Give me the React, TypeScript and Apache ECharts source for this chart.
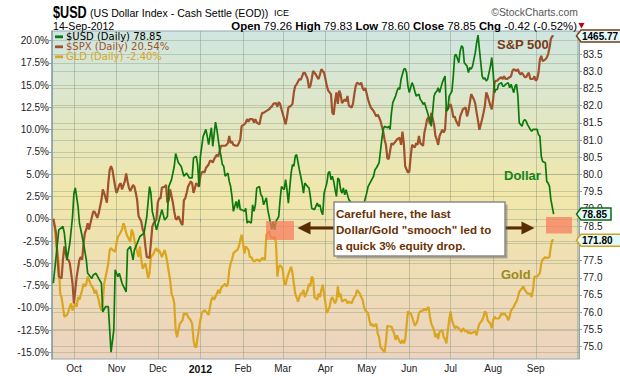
import React, { useEffect, useRef } from "react";
import * as echarts from "echarts";

// $USD daily close (right axis, price)
const usdDaily: [string, number][] = [
  ["2011-09-16",76.84],["2011-09-20",78.39],["2011-09-23",78.49],["2011-09-24",78.30],["2011-09-26",77.52],["2011-09-28",78.00],["2011-09-30",78.78],
  ["2011-10-01",79.46],["2011-10-02",79.61],["2011-10-04",79.07],["2011-10-05",78.59],["2011-10-07",78.20],["2011-10-08",78.00],["2011-10-10",77.52],
  ["2011-10-11",77.13],["2011-10-14",76.98],["2011-10-15",77.08],["2011-10-17",77.13],["2011-10-19",76.98],["2011-10-21",76.84],["2011-10-22",76.01],
  ["2011-10-24",76.16],["2011-10-26",76.16],["2011-10-28",74.84],["2011-10-30",75.48],["2011-10-31",77.23],["2011-11-02",77.03],["2011-11-03",77.13],
  ["2011-11-05",76.84],["2011-11-08",76.59],["2011-11-09",77.81],["2011-11-11",77.91],["2011-11-13",77.52],["2011-11-14",77.81],["2011-11-16",78.00],
  ["2011-11-18",78.20],["2011-11-21",78.30],["2011-11-23",78.78],["2011-11-25",79.65],["2011-11-26",79.46],["2011-11-27",78.93],["2011-11-29",78.59],
  ["2011-11-30",78.39],["2011-12-02",78.68],["2011-12-04",78.98],["2011-12-06",78.68],["2011-12-08",78.78],["2011-12-09",79.65],["2011-12-11",79.85],
  ["2011-12-13",80.24],["2011-12-14",80.61],["2011-12-16",80.34],["2011-12-18",80.24],["2011-12-20",79.95],["2011-12-22",80.04],["2011-12-24",79.90],
  ["2011-12-26",79.90],["2011-12-27",80.48],["2011-12-29",80.53],["2011-12-30",80.29],["2011-12-31",79.65],["2012-01-01",80.53],["2012-01-03",81.11],
  ["2012-01-05",81.31],["2012-01-06",81.11],["2012-01-07",80.87],["2012-01-09",81.36],["2012-01-10",80.82],["2012-01-12",81.52],["2012-01-13",81.31],
  ["2012-01-15",80.72],["2012-01-16",80.53],["2012-01-17",80.29],["2012-01-18",80.24],["2012-01-19",79.95],["2012-01-21",80.04],["2012-01-22",79.80],
  ["2012-01-23",79.65],["2012-01-24",79.36],["2012-01-25",78.93],["2012-01-27",79.22],["2012-01-28",79.02],["2012-01-29",79.27],["2012-01-30",78.98],
  ["2012-01-31",78.98],["2012-02-02",78.93],["2012-02-03",79.02],["2012-02-04",78.59],["2012-02-05",78.64],["2012-02-07",78.59],["2012-02-08",79.12],
  ["2012-02-09",78.93],["2012-02-10",79.12],["2012-02-11",79.61],["2012-02-13",79.65],["2012-02-14",79.41],["2012-02-15",79.36],["2012-02-16",79.12],
  ["2012-02-18",79.32],["2012-02-19",78.98],["2012-02-21",78.59],["2012-02-22",78.41],["2012-02-23",78.64],["2012-02-24",78.39],["2012-02-25",78.64],
  ["2012-02-27",78.78],["2012-02-28",79.27],["2012-02-29",79.65],["2012-03-02",79.56],["2012-03-03",79.85],["2012-03-04",79.56],["2012-03-05",79.17],
  ["2012-03-07",80.04],["2012-03-08",80.29],["2012-03-09",80.24],["2012-03-10",80.53],["2012-03-11",80.58],["2012-03-13",80.14],["2012-03-14",79.95],
  ["2012-03-15",79.75],["2012-03-16",79.46],["2012-03-17",79.75],["2012-03-19",79.65],["2012-03-20",79.61],["2012-03-21",79.36],["2012-03-22",79.02],
  ["2012-03-24",78.98],["2012-03-26",79.17],["2012-03-27",79.07],["2012-03-28",79.12],["2012-03-29",78.93],["2012-03-30",78.83],["2012-03-31",79.46],
  ["2012-04-02",79.75],["2012-04-03",80.04],["2012-04-04",80.09],["2012-04-05",79.85],["2012-04-06",79.95],["2012-04-07",79.80],["2012-04-08",79.56],
  ["2012-04-09",79.36],["2012-04-10",79.90],["2012-04-11",79.85],["2012-04-12",79.56],["2012-04-13",79.46],["2012-04-14",79.61],["2012-04-15",79.41],
  ["2012-04-16",79.56],["2012-04-18",79.27],["2012-04-19",79.22],["2012-04-20",79.17],["2012-04-24",79.07],["2012-04-28",79.02],["2012-05-01",79.46],
  ["2012-05-02",79.65],["2012-05-04",79.80],["2012-05-06",79.95],["2012-05-07",80.14],["2012-05-08",80.19],["2012-05-10",80.34],["2012-05-11",80.68],
  ["2012-05-12",81.02],["2012-05-13",81.31],["2012-05-14",81.40],["2012-05-16",81.36],["2012-05-17",81.40],["2012-05-18",81.31],["2012-05-19",81.79],
  ["2012-05-20",82.09],["2012-05-22",82.28],["2012-05-23",82.42],["2012-05-24",82.52],["2012-05-25",82.47],["2012-05-26",82.77],["2012-05-28",83.06],
  ["2012-05-29",83.08],["2012-05-30",82.96],["2012-05-31",82.57],["2012-06-01",82.38],["2012-06-03",82.67],["2012-06-04",82.57],["2012-06-05",82.42],
  ["2012-06-06",82.28],["2012-06-08",82.33],["2012-06-09",82.18],["2012-06-10",82.13],["2012-06-11",82.04],["2012-06-12",82.09],["2012-06-15",81.70],
  ["2012-06-16",81.60],["2012-06-17",81.40],["2012-06-19",82.28],["2012-06-20",82.38],["2012-06-21",82.42],["2012-06-22",82.52],["2012-06-23",82.38],
  ["2012-06-25",82.67],["2012-06-26",82.77],["2012-06-27",82.86],["2012-06-28",81.84],["2012-06-29",81.89],["2012-06-30",82.28],["2012-07-02",82.42],
  ["2012-07-03",82.86],["2012-07-04",83.45],["2012-07-05",83.49],["2012-07-07",83.25],["2012-07-08",83.59],["2012-07-09",83.74],["2012-07-10",83.69],
  ["2012-07-11",83.25],["2012-07-13",83.15],["2012-07-14",82.96],["2012-07-15",83.11],["2012-07-16",83.06],["2012-07-17",83.15],["2012-07-19",83.54],
  ["2012-07-20",83.83],["2012-07-21",84.05],["2012-07-22",83.64],["2012-07-24",82.86],["2012-07-25",82.77],["2012-07-26",82.81],["2012-07-27",82.72],
  ["2012-07-28",82.77],["2012-07-30",83.15],["2012-07-31",83.40],["2012-08-01",82.96],["2012-08-02",82.38],["2012-08-03",82.47],["2012-08-04",82.47],
  ["2012-08-05",82.62],["2012-08-07",82.67],["2012-08-08",82.57],["2012-08-09",82.57],["2012-08-10",82.62],["2012-08-12",82.67],["2012-08-13",82.52],
  ["2012-08-14",82.62],["2012-08-16",82.38],["2012-08-17",82.57],["2012-08-18",82.62],["2012-08-19",82.28],["2012-08-20",81.50],["2012-08-22",81.40],
  ["2012-08-23",81.55],["2012-08-24",81.60],["2012-08-25",81.55],["2012-08-26",81.45],["2012-08-28",81.31],["2012-08-29",81.26],["2012-08-30",81.31],
  ["2012-08-31",81.31],["2012-09-02",81.31],["2012-09-03",81.16],["2012-09-04",81.11],["2012-09-05",80.53],["2012-09-06",80.38],["2012-09-08",80.34],
  ["2012-09-09",79.80],["2012-09-10",79.75],["2012-09-11",79.65],["2012-09-12",79.27],["2012-09-14",78.85],
];

// $SPX % change (left axis)
const spxPct: [string, number][] = [
  ["2011-09-16",0.0],["2011-09-18",-1.6],["2011-09-19",-4.3],["2011-09-20",-6.5],["2011-09-22",-6.7],["2011-09-23",-4.6],["2011-09-24",-3.1],
  ["2011-09-26",-4.6],["2011-09-27",-4.6],["2011-09-28",-5.0],["2011-09-30",-7.3],["2011-10-01",-9.5],["2011-10-02",-8.0],["2011-10-03",-6.5],
  ["2011-10-05",-4.6],["2011-10-06",-4.3],["2011-10-07",-4.6],["2011-10-08",-2.7],["2011-10-09",-1.6],["2011-10-10",-1.2],["2011-10-11",-0.5],
  ["2011-10-12",-1.2],["2011-10-13",-0.5],["2011-10-15",0.8],["2011-10-16",0.8],["2011-10-17",0.45],["2011-10-18",0.1],["2011-10-19",0.6],
  ["2011-10-21",2.1],["2011-10-22",3.3],["2011-10-23",2.9],["2011-10-25",1.8],["2011-10-26",4.0],["2011-10-27",5.5],["2011-10-28",5.9],
  ["2011-10-29",5.5],["2011-10-31",3.6],["2011-11-01",2.9],["2011-11-02",3.3],["2011-11-03",3.8],["2011-11-04",4.0],["2011-11-05",3.3],
  ["2011-11-07",4.2],["2011-11-08",5.1],["2011-11-09",4.2],["2011-11-10",3.5],["2011-11-11",3.1],["2011-11-13",3.8],["2011-11-14",3.6],
  ["2011-11-15",2.9],["2011-11-16",2.1],["2011-11-17",0.3],["2011-11-19",-0.3],["2011-11-20",-1.2],["2011-11-21",-1.6],["2011-11-22",-3.1],
  ["2011-11-23",-4.3],["2011-11-25",-4.4],["2011-11-26",-2.7],["2011-11-27",-0.9],["2011-11-28",-0.5],["2011-11-30",-0.1],["2011-12-01",1.8],
  ["2011-12-02",2.3],["2011-12-03",2.3],["2011-12-04",3.5],["2011-12-06",3.6],["2011-12-07",3.8],["2011-12-08",1.8],["2011-12-09",2.1],
  ["2011-12-10",3.3],["2011-12-12",1.8],["2011-12-13",0.8],["2011-12-14",0.0],["2011-12-15",-0.1],["2011-12-16",0.3],["2011-12-18",-0.5],
  ["2011-12-19",-0.7],["2011-12-20",2.1],["2011-12-21",2.3],["2011-12-22",2.9],["2011-12-23",3.6],["2011-12-25",4.2],["2011-12-26",4.0],
  ["2011-12-27",2.9],["2011-12-29",4.0],["2011-12-30",3.8],["2011-12-31",3.6],["2012-01-01",4.8],["2012-01-02",5.2],["2012-01-03",5.3],
  ["2012-01-04",5.2],["2012-01-05",5.7],["2012-01-07",6.1],["2012-01-08",6.5],["2012-01-09",6.5],["2012-01-10",6.3],["2012-01-11",6.7],
  ["2012-01-13",7.2],["2012-01-14",7.0],["2012-01-15",7.6],["2012-01-16",8.2],["2012-01-17",8.2],["2012-01-19",8.2],["2012-01-20",8.3],
  ["2012-01-21",8.5],["2012-01-22",9.3],["2012-01-23",8.5],["2012-01-24",8.7],["2012-01-25",8.3],["2012-01-27",8.2],["2012-01-28",8.2],
  ["2012-01-29",8.5],["2012-01-30",8.9],["2012-01-31",10.4],["2012-02-02",10.6],["2012-02-03",10.8],["2012-02-04",11.2],["2012-02-05",10.9],
  ["2012-02-06",11.2],["2012-02-08",11.2],["2012-02-09",10.8],["2012-02-10",11.2],["2012-02-11",10.8],["2012-02-13",10.6],["2012-02-14",11.4],
  ["2012-02-15",11.9],["2012-02-16",11.9],["2012-02-17",12.0],["2012-02-19",12.2],["2012-02-20",12.3],["2012-02-21",12.5],["2012-02-22",12.6],
  ["2012-02-23",12.9],["2012-02-25",13.0],["2012-02-26",12.6],["2012-02-27",13.1],["2012-02-28",12.9],["2012-02-29",12.3],["2012-03-02",11.2],
  ["2012-03-03",10.6],["2012-03-04",11.4],["2012-03-05",12.5],["2012-03-07",12.7],["2012-03-08",12.9],["2012-03-09",14.2],["2012-03-10",14.9],
  ["2012-03-11",15.1],["2012-03-13",15.7],["2012-03-14",15.6],["2012-03-15",16.0],["2012-03-16",16.4],["2012-03-17",16.4],["2012-03-19",15.7],
  ["2012-03-20",14.7],["2012-03-21",14.9],["2012-03-22",15.7],["2012-03-23",16.6],["2012-03-25",16.2],["2012-03-26",15.9],["2012-03-27",15.7],
  ["2012-03-28",16.2],["2012-03-29",16.8],["2012-03-31",16.4],["2012-04-01",15.7],["2012-04-02",14.9],["2012-04-03",14.4],["2012-04-05",14.0],
  ["2012-04-06",11.9],["2012-04-07",11.7],["2012-04-08",13.2],["2012-04-09",14.2],["2012-04-10",12.9],["2012-04-11",14.4],["2012-04-12",14.0],
  ["2012-04-13",13.0],["2012-04-15",13.4],["2012-04-16",13.2],["2012-04-17",13.8],["2012-04-18",12.7],["2012-04-20",12.5],["2012-04-21",12.9],
  ["2012-04-22",14.0],["2012-04-23",14.9],["2012-04-24",15.3],["2012-04-26",15.1],["2012-04-27",15.3],["2012-04-28",14.7],["2012-04-29",14.4],
  ["2012-04-30",14.7],["2012-05-02",13.4],["2012-05-03",12.9],["2012-05-04",12.5],["2012-05-05",12.3],["2012-05-06",12.1],["2012-05-08",11.5],
  ["2012-05-09",11.7],["2012-05-10",11.4],["2012-05-11",11.0],["2012-05-13",9.8],["2012-05-14",8.9],["2012-05-15",8.3],["2012-05-16",6.8],
  ["2012-05-17",6.7],["2012-05-19",8.5],["2012-05-20",8.3],["2012-05-21",8.5],["2012-05-22",8.7],["2012-05-23",8.9],["2012-05-25",9.1],
  ["2012-05-26",8.3],["2012-05-27",9.8],["2012-05-28",8.5],["2012-05-29",5.9],["2012-05-31",5.2],["2012-06-01",5.3],["2012-06-02",7.0],
  ["2012-06-03",8.3],["2012-06-05",8.0],["2012-06-06",8.5],["2012-06-07",8.3],["2012-06-08",9.3],["2012-06-09",8.5],["2012-06-11",8.2],
  ["2012-06-12",9.7],["2012-06-13",10.4],["2012-06-14",11.2],["2012-06-15",11.4],["2012-06-16",10.6],["2012-06-17",11.9],["2012-06-19",10.6],
  ["2012-06-20",9.3],["2012-06-21",8.9],["2012-06-22",8.3],["2012-06-23",9.3],["2012-06-25",10.0],["2012-06-26",9.7],["2012-06-27",10.0],
  ["2012-06-28",12.5],["2012-06-29",12.3],["2012-07-01",12.9],["2012-07-02",12.3],["2012-07-03",11.4],["2012-07-04",11.5],["2012-07-05",11.0],
  ["2012-07-07",10.4],["2012-07-08",11.5],["2012-07-09",11.9],["2012-07-10",12.3],["2012-07-12",12.5],["2012-07-13",11.5],["2012-07-14",12.1],
  ["2012-07-15",13.0],["2012-07-16",14.0],["2012-07-18",13.4],["2012-07-19",12.9],["2012-07-20",11.9],["2012-07-21",11.0],["2012-07-22",10.0],
  ["2012-07-24",11.2],["2012-07-25",11.9],["2012-07-26",12.7],["2012-07-27",14.2],["2012-07-28",13.8],["2012-07-30",12.7],["2012-07-31",12.3],
  ["2012-08-01",13.4],["2012-08-02",15.3],["2012-08-03",15.5],["2012-08-04",15.5],["2012-08-05",15.7],["2012-08-07",15.9],["2012-08-08",15.7],
  ["2012-08-09",16.0],["2012-08-10",15.7],["2012-08-11",15.7],["2012-08-13",15.9],["2012-08-14",16.0],["2012-08-15",16.6],["2012-08-16",16.8],
  ["2012-08-18",16.6],["2012-08-19",16.8],["2012-08-20",16.4],["2012-08-21",16.2],["2012-08-22",16.4],["2012-08-24",15.9],["2012-08-25",15.9],
  ["2012-08-26",16.2],["2012-08-27",16.4],["2012-08-28",15.7],["2012-08-30",15.7],["2012-08-31",16.0],["2012-09-01",15.5],["2012-09-02",15.7],
  ["2012-09-03",16.4],["2012-09-04",17.9],["2012-09-05",18.3],["2012-09-06",17.7],["2012-09-08",17.9],["2012-09-09",18.1],["2012-09-10",18.5],
  ["2012-09-11",19.2],["2012-09-12",20.2],["2012-09-13",20.5],["2012-09-14",20.54],
];

// GLD % change (left axis)
const gldPct: [string, number][] = [
  ["2011-09-16",0.0],["2011-09-17",-0.9],["2011-09-18",-2.7],["2011-09-20",-5.0],["2011-09-21",-8.4],["2011-09-22",-8.8],["2011-09-23",-9.9],
  ["2011-09-24",-11.0],["2011-09-26",-10.8],["2011-09-27",-10.4],["2011-09-28",-9.9],["2011-09-29",-9.5],["2011-09-30",-10.3],["2011-10-02",-9.5],
  ["2011-10-03",-9.9],["2011-10-04",-8.8],["2011-10-05",-9.1],["2011-10-07",-8.0],["2011-10-08",-7.3],["2011-10-09",-7.6],["2011-10-10",-7.3],
  ["2011-10-11",-6.5],["2011-10-13",-7.3],["2011-10-14",-7.6],["2011-10-15",-7.8],["2011-10-16",-8.4],["2011-10-17",-8.0],["2011-10-19",-9.1],
  ["2011-10-20",-9.9],["2011-10-21",-10.3],["2011-10-22",-9.3],["2011-10-23",-7.3],["2011-10-25",-5.8],["2011-10-26",-5.0],["2011-10-27",-3.5],
  ["2011-10-28",-3.3],["2011-10-29",-3.5],["2011-10-31",-3.7],["2011-11-01",-2.7],["2011-11-02",-2.0],["2011-11-03",-1.8],["2011-11-05",-1.2],
  ["2011-11-06",-0.5],["2011-11-07",-0.9],["2011-11-08",-1.6],["2011-11-09",-2.0],["2011-11-11",-2.6],["2011-11-12",-1.2],["2011-11-13",-1.6],
  ["2011-11-14",-2.4],["2011-11-15",-3.1],["2011-11-17",-4.3],["2011-11-18",-3.1],["2011-11-19",-4.6],["2011-11-20",-5.6],["2011-11-22",-5.0],
  ["2011-11-23",-5.8],["2011-11-24",-6.7],["2011-11-25",-6.1],["2011-11-26",-4.3],["2011-11-28",-3.9],["2011-11-29",-3.5],["2011-11-30",-3.3],
  ["2011-12-01",-3.7],["2011-12-02",-3.5],["2011-12-04",-4.3],["2011-12-05",-3.9],["2011-12-06",-3.5],["2011-12-07",-4.1],["2011-12-08",-5.0],
  ["2011-12-10",-6.9],["2011-12-11",-8.4],["2011-12-12",-8.8],["2011-12-13",-9.5],["2011-12-14",-12.5],["2011-12-15",-13.3],["2011-12-16",-12.5],
  ["2011-12-17",-11.8],["2011-12-19",-11.4],["2011-12-20",-10.6],["2011-12-21",-10.8],["2011-12-22",-10.6],["2011-12-23",-11.0],["2011-12-25",-11.4],
  ["2011-12-26",-11.8],["2011-12-27",-13.6],["2011-12-28",-14.4],["2011-12-29",-14.4],["2011-12-30",-13.3],["2012-01-01",-11.4],["2012-01-02",-10.6],
  ["2012-01-03",-10.4],["2012-01-04",-10.3],["2012-01-05",-10.4],["2012-01-07",-10.8],["2012-01-08",-9.9],["2012-01-09",-9.1],["2012-01-10",-8.8],
  ["2012-01-11",-9.1],["2012-01-13",-8.4],["2012-01-14",-8.0],["2012-01-15",-8.4],["2012-01-16",-7.8],["2012-01-17",-7.6],["2012-01-19",-7.3],
  ["2012-01-20",-7.6],["2012-01-21",-7.3],["2012-01-22",-5.8],["2012-01-23",-5.0],["2012-01-24",-4.6],["2012-01-25",-3.9],["2012-01-26",-3.7],
  ["2012-01-28",-3.5],["2012-01-29",-3.1],["2012-01-30",-2.4],["2012-01-31",-1.8],["2012-02-01",-2.7],["2012-02-02",-3.9],["2012-02-03",-3.1],
  ["2012-02-05",-3.5],["2012-02-06",-4.3],["2012-02-07",-4.3],["2012-02-08",-4.6],["2012-02-09",-4.8],["2012-02-11",-4.6],["2012-02-12",-4.6],
  ["2012-02-13",-4.8],["2012-02-14",-4.6],["2012-02-15",-4.4],["2012-02-17",-4.6],["2012-02-18",-1.8],["2012-02-19",-1.6],["2012-02-20",-1.4],
  ["2012-02-21",-2.0],["2012-02-23",-2.2],["2012-02-24",-2.0],["2012-02-25",-2.7],["2012-02-26",-6.5],["2012-02-27",-5.4],["2012-02-28",-5.2],
  ["2012-02-29",-5.4],["2012-03-01",-5.8],["2012-03-02",-7.3],["2012-03-03",-7.4],["2012-03-04",-6.7],["2012-03-06",-5.8],["2012-03-07",-5.4],
  ["2012-03-08",-6.1],["2012-03-09",-7.3],["2012-03-10",-8.4],["2012-03-12",-9.3],["2012-03-13",-8.8],["2012-03-14",-8.4],["2012-03-15",-8.4],
  ["2012-03-16",-8.0],["2012-03-17",-8.8],["2012-03-19",-8.0],["2012-03-20",-7.3],["2012-03-21",-7.6],["2012-03-22",-6.5],["2012-03-23",-6.7],
  ["2012-03-24",-8.8],["2012-03-26",-9.1],["2012-03-27",-8.4],["2012-03-28",-8.8],["2012-03-29",-8.0],["2012-03-30",-7.4],["2012-03-31",-8.4],
  ["2012-04-01",-9.5],["2012-04-02",-10.6],["2012-04-04",-9.9],["2012-04-05",-9.1],["2012-04-06",-8.8],["2012-04-08",-9.5],["2012-04-09",-9.1],
  ["2012-04-10",-7.6],["2012-04-11",-8.8],["2012-04-12",-8.4],["2012-04-13",-9.3],["2012-04-15",-9.1],["2012-04-16",-9.1],["2012-04-17",-9.5],
  ["2012-04-18",-9.3],["2012-04-20",-9.5],["2012-04-21",-9.1],["2012-04-22",-8.8],["2012-04-23",-8.6],["2012-04-24",-8.0],["2012-04-26",-8.4],
  ["2012-04-27",-8.8],["2012-04-28",-9.1],["2012-04-29",-9.9],["2012-04-30",-10.3],["2012-05-02",-10.6],["2012-05-03",-11.4],["2012-05-04",-12.0],
  ["2012-05-05",-11.8],["2012-05-06",-12.1],["2012-05-08",-11.8],["2012-05-09",-12.9],["2012-05-10",-13.3],["2012-05-11",-14.4],["2012-05-13",-14.8],
  ["2012-05-14",-15.0],["2012-05-15",-13.8],["2012-05-16",-12.0],["2012-05-17",-12.1],["2012-05-19",-12.1],["2012-05-20",-12.5],["2012-05-21",-12.9],
  ["2012-05-22",-13.6],["2012-05-23",-13.1],["2012-05-25",-13.8],["2012-05-26",-14.0],["2012-05-27",-13.6],["2012-05-28",-14.0],["2012-05-29",-13.6],
  ["2012-05-31",-10.4],["2012-06-01",-10.6],["2012-06-02",-10.6],["2012-06-03",-11.0],["2012-06-05",-12.0],["2012-06-06",-11.8],["2012-06-07",-11.4],
  ["2012-06-08",-10.6],["2012-06-09",-10.4],["2012-06-11",-10.3],["2012-06-12",-10.1],["2012-06-13",-10.3],["2012-06-15",-9.9],["2012-06-16",-11.0],
  ["2012-06-17",-11.8],["2012-06-19",-12.5],["2012-06-20",-13.3],["2012-06-21",-12.9],["2012-06-22",-13.5],["2012-06-23",-12.7],["2012-06-25",-12.5],
  ["2012-06-26",-13.3],["2012-06-27",-13.5],["2012-06-28",-14.0],["2012-06-29",-12.5],["2012-06-30",-11.4],["2012-07-01",-10.4],["2012-07-02",-11.4],
  ["2012-07-03",-11.8],["2012-07-04",-12.3],["2012-07-05",-12.1],["2012-07-07",-12.3],["2012-07-08",-12.5],["2012-07-09",-12.7],["2012-07-10",-12.3],
  ["2012-07-12",-12.7],["2012-07-13",-12.5],["2012-07-14",-12.9],["2012-07-15",-12.7],["2012-07-16",-12.9],["2012-07-18",-12.7],["2012-07-19",-12.7],
  ["2012-07-20",-13.1],["2012-07-21",-12.3],["2012-07-22",-11.8],["2012-07-24",-11.4],["2012-07-25",-11.0],["2012-07-26",-10.4],["2012-07-27",-10.6],
  ["2012-07-28",-11.4],["2012-07-30",-11.8],["2012-07-31",-12.3],["2012-08-01",-11.4],["2012-08-02",-11.0],["2012-08-03",-11.2],["2012-08-05",-11.2],
  ["2012-08-06",-11.0],["2012-08-07",-10.6],["2012-08-08",-10.8],["2012-08-09",-10.6],["2012-08-11",-11.0],["2012-08-12",-11.4],["2012-08-13",-11.0],
  ["2012-08-14",-10.3],["2012-08-16",-9.9],["2012-08-17",-9.5],["2012-08-18",-9.3],["2012-08-19",-8.8],["2012-08-20",-8.2],["2012-08-22",-7.8],
  ["2012-08-23",-7.6],["2012-08-24",-8.0],["2012-08-25",-8.2],["2012-08-26",-8.4],["2012-08-28",-8.4],["2012-08-29",-8.8],["2012-08-30",-8.0],
  ["2012-08-31",-6.5],["2012-09-01",-6.5],["2012-09-02",-6.5],["2012-09-04",-6.1],["2012-09-05",-5.0],["2012-09-06",-4.6],["2012-09-08",-4.3],
  ["2012-09-09",-4.4],["2012-09-10",-4.4],["2012-09-11",-4.3],["2012-09-12",-3.1],["2012-09-13",-2.4],["2012-09-14",-2.4],
];

const leftTicks = [-15, -12.5, -10, -7.5, -5, -2.5, 0, 2.5, 5, 7.5, 10, 12.5, 15, 17.5, 20];
const rightTicks = [75, 75.5, 76, 76.5, 77, 77.5, 78, 78.5, 79, 79.5, 80, 80.5, 81, 81.5, 82, 82.5, 83, 83.5];
const monthLabels = ["Jan", "Feb", "Mar", "Apr", "May", "Jun", "Jul", "Aug", "Sep", "Oct", "Nov", "Dec"];
const legendLabels = ["$USD (Daily) 78.85", "$SPX (Daily) 20.54%", "GLD (Daily) -2.40%"];
const lastPriceTags = ["78.85", "1465.77", "171.80"];

const ARIAL = '"Liberation Sans", Arial, sans-serif';
const VERD = '"DejaVu Sans", Verdana, sans-serif';
const C_USD = "#0b7a0b";
const C_SPX = "#a0522d";
const C_GLD = "#daa520";

export default function App() {
  const ref = useRef<HTMLDivElement>(null);
  useEffect(() => {
    const chart = echarts.init(ref.current!, null, { renderer: "svg" });
    const gridLine = { show: true, lineStyle: { color: "rgba(140,150,120,0.38)", width: 1 } };
    chart.setOption({
      animation: false,
      backgroundColor: "#ffffff",
      grid: {
        left: 52, right: 41, top: 31, bottom: 17,
        show: true,
        borderColor: "#92a9b0",
        borderWidth: 1,
        outerBoundsMode: "none",
        backgroundColor: new echarts.graphic.LinearGradient(0, 0, 0, 1, [
          { offset: 0, color: "#cfe6e1" },
          { offset: 0.5, color: "#f1e7ab" },
          { offset: 1, color: "#ecd3bf" },
        ]),
      },
      xAxis: {
        type: "time",
        min: new Date(2011, 8, 15, 1).getTime(),
        max: new Date(2012, 9, 2, 11).getTime(),
        splitNumber: 12,
        minInterval: 27 * 86400000,
        axisLine: { show: false },
        axisTick: { show: true, length: 3, lineStyle: { color: "#8aa0a8" } },
        axisLabel: {
          margin: 4,
          fontFamily: ARIAL,
          fontSize: 10,
          color: "#222",
          hideOverlap: false,
          formatter: (v: number) => {
            const d = new Date(v);
            if (d.getDate() !== 1 || d.getHours() !== 0) return "";
            if (d.getFullYear() === 2012 && d.getMonth() >= 9) return "";
            if (d.getMonth() === 0) return "{b|" + d.getFullYear() + "}";
            return monthLabels[d.getMonth()];
          },
          rich: { b: { fontWeight: "bold", fontFamily: ARIAL, fontSize: 10.5, color: "#111" } },
        },
        splitLine: { show: true, lineStyle: { color: "rgba(140,150,120,0.45)", width: 1 } },
      },
      yAxis: [
        {
          type: "value",
          position: "left",
          min: -15.75,
          max: 21.09,
          axisLine: { show: true, lineStyle: { color: "#8aa3ab", width: 1.5 } },
          axisTick: { show: true, length: 3, customValues: leftTicks, lineStyle: { color: "#8aa3ab" } },
          axisLabel: {
            customValues: leftTicks,
            margin: 3,
            fontFamily: ARIAL,
            fontSize: 10,
            color: "#222",
            formatter: (v: number) => v.toFixed(1) + "%",
          },
          splitLine: gridLine,
        },
        {
          type: "value",
          position: "right",
          min: 74.64,
          max: 84.17,
          axisLine: { show: true, lineStyle: { color: "#8aa3ab", width: 1, type: "dotted" } },
          axisTick: { show: true, length: 3, customValues: rightTicks, lineStyle: { color: "#8aa3ab" } },
          axisLabel: {
            customValues: rightTicks,
            margin: 4,
            fontFamily: ARIAL,
            fontSize: 10,
            color: "#222",
            formatter: (v: number) => v.toFixed(1),
          },
          splitLine: gridLine,
        },
      ],
      series: [
        {
          name: "GLD", type: "line", yAxisIndex: 0, data: gldPct, showSymbol: false, symbol: "none",
          lineStyle: { color: C_GLD, width: 2.2 }, z: 2,
        },
        {
          name: "$SPX", type: "line", yAxisIndex: 0, data: spxPct, showSymbol: false, symbol: "none",
          lineStyle: { color: C_SPX, width: 2.2 }, z: 3,
        },
        {
          name: "$USD", type: "line", yAxisIndex: 1, data: usdDaily, showSymbol: false, symbol: "none",
          lineStyle: { color: C_USD, width: 1.7 }, z: 4,
        },
      ],
    });

    const lastUsd = usdDaily[usdDaily.length - 1];
    const lastSpx = spxPct[spxPct.length - 1];
    const lastGld = gldPct[gldPct.length - 1];
    const yUsd = (chart.convertToPixel({ seriesIndex: 2 }, lastUsd as any) as number[])[1];
    const ySpx = (chart.convertToPixel({ seriesIndex: 1 }, lastSpx as any) as number[])[1];
    const yGld = (chart.convertToPixel({ seriesIndex: 0 }, lastGld as any) as number[])[1];

    const tag = (y: number, text: string, stroke: string, w: number) => [
      {
        type: "polygon", z: 20,
        shape: { points: [[576.5, y], [581, y - 6], [581 + w, y - 6], [581 + w, y + 6], [581, y + 6]] },
        style: { fill: "#e2fbfb", stroke, lineWidth: 1.5 },
      },
      {
        type: "text", z: 21, x: 582, y: y + 0.5,
        style: { text, font: "bold 10px " + ARIAL, fill: "#000", align: "left", verticalAlign: "middle" },
      },
    ];

    const legend = legendLabels.map((t, i) => {
      const y = 36.7 + i * 10;
      const col = [C_USD, C_SPX, C_GLD][i];
      const txtCol = ["#000", C_SPX, C_GLD][i];
      return [
        { type: "rect", z: 20, shape: { x: 55, y: y - 1.3, width: 8, height: 2.8 }, style: { fill: col } },
        { type: "text", z: 20, x: 66, y, style: { text: t, font: "10px " + VERD, fill: txtCol, verticalAlign: "middle" } },
      ];
    }).flat();

    const brown = "#5a2c02";
    chart.setOption({
      graphic: [
        // header
        { type: "text", x: 53, y: 12, scaleX: 0.79, style: { text: "$USD", font: "bold 16px " + ARIAL, fill: "#000", verticalAlign: "middle" } },
        { type: "text", x: 90, y: 12.5, style: { text: "(US Dollar Index - Cash Settle (EOD))", font: "10.6px " + ARIAL, fill: "#000", verticalAlign: "middle" } },
        { type: "text", x: 274, y: 13, style: { text: "ICE", font: "9px " + ARIAL, fill: "#000", verticalAlign: "middle" } },
        { type: "text", x: 578, y: 12.5, style: { text: "\u00A9StockCharts.com", font: "10.4px " + ARIAL, fill: "#555", align: "right", verticalAlign: "middle" } },
        { type: "text", x: 53, y: 25.5, style: { text: "14-Sep-2012", font: "10.6px " + ARIAL, fill: "#000", verticalAlign: "middle" } },
        {
          type: "text", x: 577, y: 25.5,
          style: {
            text: "{b|Open} 79.26 {b|High} 79.83 {b|Low} 78.60 {b|Close} 78.85 {b|Chg} -0.42 (-0.52%)",
            font: "11.4px " + ARIAL, fill: "#000", align: "right", verticalAlign: "middle",
            rich: { b: { fontWeight: "bold", fontFamily: ARIAL, fontSize: 11.4, fill: "#000" } },
          },
        },
        { type: "polygon", shape: { points: [[578.5, 23], [584.5, 23], [581.5, 28.5]] }, style: { fill: "#c00000" } },
        ...legend,
        // series labels
        { type: "text", z: 20, x: 497, y: 44, style: { text: "S&P 500", font: "bold 13px " + ARIAL, fill: "#7a3a14", verticalAlign: "middle" } },
        { type: "text", z: 20, x: 504, y: 175.5, style: { text: "Dollar", font: "bold 13px " + ARIAL, fill: "#16841a", verticalAlign: "middle" } },
        { type: "text", z: 20, x: 501, y: 274, style: { text: "Gold", font: "bold 13px " + ARIAL, fill: "#9c8a18", verticalAlign: "middle" } },
        // highlight boxes
        { type: "rect", z: 15, shape: { x: 266, y: 221, width: 28, height: 19 }, style: { fill: "rgba(248,122,92,0.72)" } },
        { type: "rect", z: 15, shape: { x: 546, y: 217, width: 26, height: 16.5 }, style: { fill: "rgba(248,122,92,0.72)" } },
        // arrows
        { type: "line", z: 16, shape: { x1: 334, y1: 228, x2: 308, y2: 228 }, style: { stroke: brown, lineWidth: 3 } },
        { type: "polygon", z: 16, shape: { points: [[297.5, 228], [310.5, 221.5], [310.5, 234.5]] }, style: { fill: brown } },
        { type: "line", z: 16, shape: { x1: 505, y1: 228, x2: 523, y2: 228 }, style: { stroke: brown, lineWidth: 3 } },
        { type: "polygon", z: 16, shape: { points: [[534.5, 228], [521.5, 221.5], [521.5, 234.5]] }, style: { fill: brown } },
        // annotation box
        { type: "rect", z: 17, shape: { x: 336.5, y: 204.5, width: 171, height: 54 }, style: { fill: "rgba(90,90,90,0.45)" } },
        { type: "rect", z: 18, shape: { x: 334, y: 202, width: 171, height: 54 }, style: { fill: "#ffffff", stroke: "#8c8c8c", lineWidth: 1.5 } },
        { type: "text", z: 19, x: 336, y: 213.5, style: { text: "Careful here, the last", font: "bold 11.6px " + ARIAL, fill: "#6a3205", verticalAlign: "middle" } },
        { type: "text", z: 19, x: 336, y: 229.5, style: { text: 'Dollar/Gold "smooch" led to', font: "bold 11.6px " + ARIAL, fill: "#6a3205", verticalAlign: "middle" } },
        { type: "text", z: 19, x: 336, y: 245, style: { text: "a quick 3% equity drop.", font: "bold 11.6px " + ARIAL, fill: "#6a3205", verticalAlign: "middle" } },
        // last-value tags on right axis
        ...tag(ySpx, lastPriceTags[1], "#7a3a14", 40),
        ...tag(yUsd, lastPriceTags[0], "#0b6a0b", 30),
        ...tag(yGld, lastPriceTags[2], "#d4a020", 40),
      ],
    });
    return () => chart.dispose();
  }, []);
  return (
    <div
      ref={ref}
      style={{ position: "fixed", left: 0, top: 0, width: 620, height: 376, background: "#fff" }}
    />
  );
}
